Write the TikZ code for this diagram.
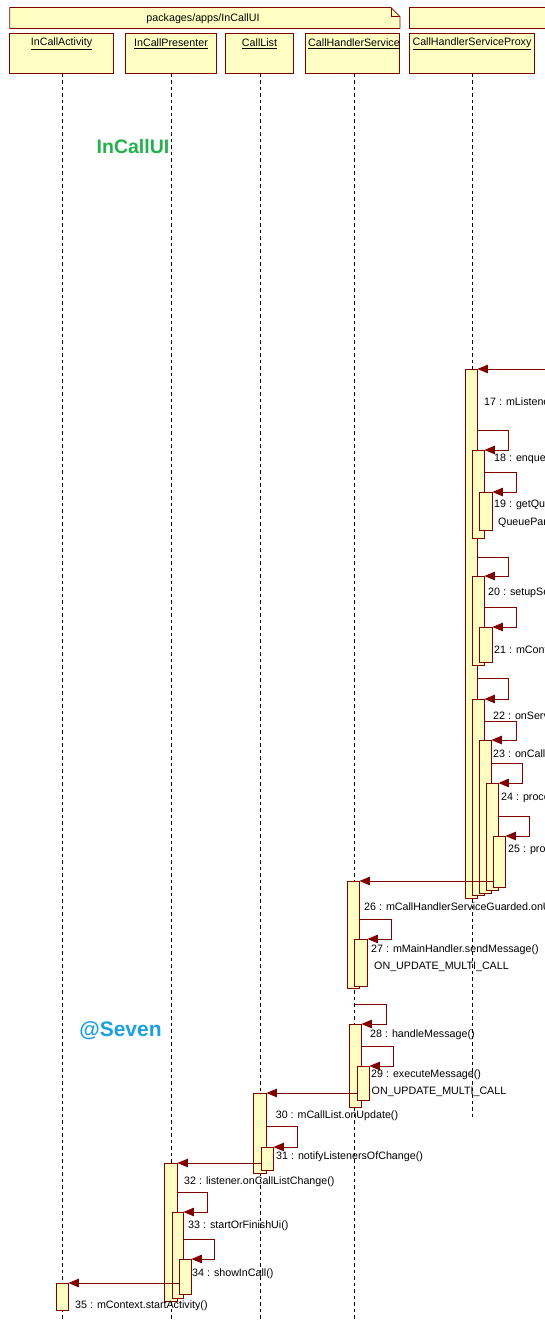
\documentclass[tikz,border=0pt]{standalone}
\usepackage{fontspec}
\setmainfont{Liberation Sans}
\usetikzlibrary{arrows.meta,fit}
\definecolor{brd}{RGB}{128,0,0}
\definecolor{fillY}{RGB}{255,255,196}
\definecolor{grn}{RGB}{34,177,76}
\definecolor{blu}{RGB}{27,161,226}
\newcommand{\actbar}[5]{\node[bar, fit={(#2,#3) (#4,#5)}] (#1) {};}
\begin{document}
\begin{tikzpicture}[x=1pt,y=-1pt,
  bar/.style={draw=brd, fill=fillY, line width=0.8pt, inner sep=0pt},
  head/.style={draw=brd, fill=fillY, line width=0.8pt, inner sep=0pt},
  life/.style={draw=black, line width=0.8pt, dash pattern=on 3.5pt off 3pt},
  msg/.style={draw=brd, line width=1pt, -{Triangle[length=10.5pt,width=8.5pt]}},
  lbl/.style={anchor=west, inner sep=0pt, font=\fontsize{10.7}{12}\selectfont},
  hlbl/.style={inner sep=0pt, font=\fontsize{10.7}{12}\selectfont},
  ]
\useasboundingbox (0,0) rectangle (545,1321);
\clip (0,0) rectangle (545,1321);
\fill[white] (0,0) rectangle (545,1321);

% packages
\draw[head] (9.7,7.6) -- (391,7.6) -- (400,16.6) -- (400,28.5) -- (9.7,28.5) -- cycle;
\draw[brd, line width=0.8pt] (391,7.6) -- (391,16.6) -- (400,16.6);
\node[hlbl] (pkg) at (203,19) {packages/apps/InCallUI};
\draw[head] (409.5,7.6) rectangle (560,28.5);

% headers
\node[head, fit={(9.7,33) (113.7,73.7)}] (h1) {};
\node[head, fit={(125.8,33) (216.5,73.7)}] (h2) {};
\node[head, fit={(225.6,33) (293.7,73.7)}] (h3) {};
\node[head, fit={(305.5,33) (399.7,73.7)}] (h4) {};
\node[head, fit={(409.5,33) (534.2,73.7)}] (h5) {};
\node[hlbl] (t1) at (61.5,44) {\underline{InCallActivity}};
\node[hlbl] (t2) at (171,44) {\underline{InCallPresenter}};
\node[hlbl] (t3) at (259.5,44) {\underline{CallList}};
\node[hlbl] (t4) at (354,44) {\underline{CallHandlerService}};
\node[hlbl] (t5) at (472,44) {\underline{CallHandlerServiceProxy}};

% lifelines
\coordinate (e1) at (62,1321);
\coordinate (e2) at (171,1321);
\coordinate (e3) at (260,1321);
\coordinate (e4) at (354.5,1321);
\coordinate (e5) at (472,1117);
\draw[life] (62,73.7) -- (e1);
\draw[life] (171,73.7) -- (e2);
\draw[life] (260,73.7) -- (e3);
\draw[life] (354.5,73.7) -- (e4);
\draw[life] (472,73.7) -- (e5);

% watermark texts
\node[inner sep=0pt, text=grn, font=\fontsize{19.5}{22}\selectfont\bfseries] (wm1) at (133,146.5) {InCallUI};
\node[inner sep=0pt, text=blu, font=\fontsize{21}{24}\selectfont\bfseries] (wm2) at (120.5,1031) {@Seven};

% activation bars
\actbar{p}{465.5}{369}{477}{898}
\actbar{a18}{472}{450}{484}{538}
\actbar{a19}{479}{492}{492}{530}
\actbar{a20}{472}{576}{484}{665}
\actbar{a21}{479}{627}{492}{662}
\actbar{a22}{472}{699}{484}{895}
\actbar{a23}{479}{740}{491}{893}
\actbar{a24}{486}{783}{498}{890}
\actbar{a25}{493}{836}{505}{887}
\actbar{c26}{347}{881}{359}{988}
\actbar{a27}{354}{939}{367}{986}
\actbar{a28}{349}{1024}{361}{1107}
\actbar{a29}{357}{1066}{369}{1100}
\actbar{l30}{253.6}{1093}{266}{1173}
\actbar{a31}{261}{1147}{273}{1170}
\actbar{r32}{164}{1163}{177}{1301}
\actbar{a33}{172}{1212}{183}{1298}
\actbar{a34}{179}{1259}{191}{1294}
\actbar{v35}{56}{1283}{68}{1310}

% messages
\coordinate (in17) at (550,369);
\draw[msg] (in17) -- (p.east |- in17);
\draw[msg] (p.east |- 0,430) -- ++(31,0) |- (a18.east |- 0,450);
\draw[msg] (a18.east |- 0,472) -- ++(32,0) |- (a19.east |- 0,492);
\draw[msg] (p.east |- 0,557) -- ++(31,0) |- (a20.east |- 0,576);
\draw[msg] (a20.east |- 0,607) -- ++(32,0) |- (a21.east |- 0,627);
\draw[msg] (p.east |- 0,678) -- ++(31,0) |- (a22.east |- 0,699);
\draw[msg] (a22.east |- 0,721) -- ++(32,0) |- (a23.east |- 0,740);
\draw[msg] (a23.east |- 0,763) -- ++(31,0) |- (a24.east |- 0,783);
\draw[msg] (a24.east |- 0,816) -- ++(31,0) |- (a25.east |- 0,836);
\draw[msg] (a25.west |- 0,881) -- (c26.east |- 0,881);
\draw[msg] (c26.east |- 0,919) -- ++(32,0) |- (a27.east |- 0,939);
\draw[msg] (354.5,1004) -- ++(32,0) |- (a28.east |- 0,1024);
\draw[msg] (a28.east |- 0,1046) -- ++(32,0) |- (a29.east |- 0,1066);
\draw[msg] (a29.west |- 0,1093) -- (l30.east |- 0,1093);
\draw[msg] (l30.east |- 0,1126) -- ++(31,0) |- (a31.east |- 0,1147);
\draw[msg] (a31.west |- 0,1163) -- (r32.east |- 0,1163);
\draw[msg] (r32.east |- 0,1192) -- ++(30,0) |- (a33.east |- 0,1212);
\draw[msg] (a33.east |- 0,1239) -- ++(31,0) |- (a34.east |- 0,1259);
\draw[msg] (a34.west |- 0,1283) -- (v35.east |- 0,1283);

% labels
\node[lbl] (m17) at (484,402) {17 : mListene};
\node[lbl] (m18) at (494,459) {18 : enque};
\node[lbl] (m19) at (494,505) {19 : getQu};
\node[lbl] (m19b) at (498,523) {QueuePar};
\node[lbl] (m20) at (488,593) {20 : setupSe};
\node[lbl] (m21) at (494,650) {21 : mCont};
\node[lbl] (m22) at (493,716) {22 : onServ};
\node[lbl] (m23) at (493,754) {23 : onCallH};
\node[lbl] (m24) at (501,798) {24 : proce};
\node[lbl] (m25) at (508,850) {25 : pro};
\node[lbl] (m26) at (364,907) {26 : mCallHandlerServiceGuarded.onU};
\node[lbl] (m27) at (371,950) {27 : mMainHandler.sendMessage()};
\node[lbl] (m27b) at (374,967) {ON\_UPDATE\_MULTI\_CALL};
\node[lbl] (m28) at (370,1035) {28 : handleMessage()};
\node[lbl] (m29) at (371,1075) {29 : executeMessage()};
\node[lbl] (m29b) at (371.5,1092) {ON\_UPDATE\_MULTI\_CALL};
\node[lbl] (m30) at (275.6,1116) {30 : mCallList.onUpdate()};
\node[lbl] (m31) at (276,1157) {31 : notifyListenersOfChange()};
\node[lbl] (m32) at (184,1182) {32 : listener.onCallListChange()};
\node[lbl] (m33) at (188,1226) {33 : startOrFinishUi()};
\node[lbl] (m34) at (192,1274) {34 : showInCall()};
\node[lbl] (m35) at (75,1306) {35 : mContext.startActivity()};
\end{tikzpicture}
\end{document}
